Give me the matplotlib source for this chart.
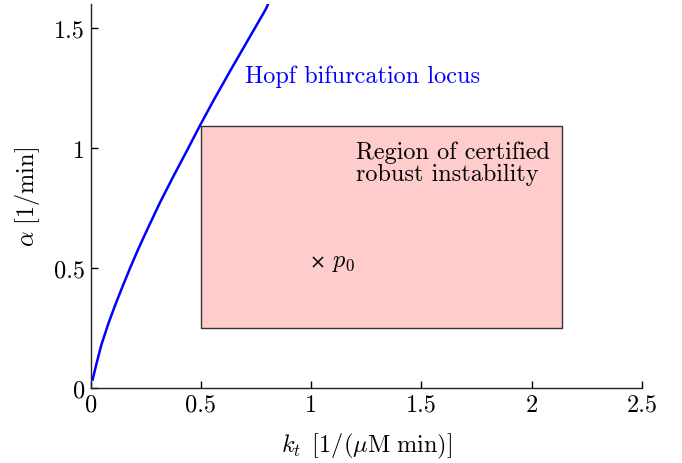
import matplotlib
matplotlib.use('Agg')
import matplotlib.pyplot as plt
from matplotlib.patches import Rectangle

plt.rcParams['font.family'] = 'serif'
plt.rcParams['font.serif'] = ['cmr10']
plt.rcParams['mathtext.fontset'] = 'cm'
plt.rcParams['axes.unicode_minus'] = False
plt.rcParams['axes.formatter.use_mathtext'] = True

# Hopf bifurcation locus
kt_hopf = [0.009, 0.026, 0.048, 0.079, 0.109, 0.139, 0.177, 0.215, 0.26,
           0.314, 0.37, 0.436, 0.497, 0.557, 0.633, 0.709, 0.792, 0.81]
alpha_hopf = [0.035, 0.100, 0.178, 0.265, 0.340, 0.410, 0.496, 0.577, 0.667,
              0.772, 0.873, 0.988, 1.096, 1.198, 1.322, 1.443, 1.575, 1.61]

# certified region box and nominal point
box_kt = [0.5, 2.14]
box_alpha = [0.25, 1.09]
p0 = (1.03, 0.525)

xticks = [0, 0.5, 1, 1.5, 2, 2.5]
xticklabels = ['0', '0.5', '1', '1.5', '2', '2.5']
yticks = [0, 0.5, 1, 1.5]
yticklabels = ['0', '0.5', '1', '1.5']

fs = 17.5

fig = plt.figure(figsize=(6.82, 4.64), dpi=100)
ax = fig.add_axes([0.133, 0.162, 0.808, 0.827])

ax.add_patch(Rectangle((box_kt[0], box_alpha[0]), box_kt[1] - box_kt[0],
                       box_alpha[1] - box_alpha[0],
                       facecolor='#ffcccc', edgecolor='#333333', lw=1.0, zorder=1))
ax.plot(kt_hopf, alpha_hopf, color='#0000ff', lw=1.8, zorder=3)
ax.plot(p0[0], p0[1], 'x', color='black', ms=7, mew=1.1, zorder=4)

ax.text(p0[0] + 0.065, p0[1], '$p_0$', fontsize=fs, va='center', ha='left')
ax.text(0.70, 1.276, 'Hopf bifurcation locus', color='#0000ff', fontsize=fs,
        va='baseline', ha='left')
ax.text(1.205, 1.03, 'Region of certified\nrobust instability', fontsize=fs,
        va='top', ha='left', linespacing=0.95)

ax.set_xlim(0, 2.5)
ax.set_ylim(0, 1.6)
ax.set_xticks(xticks)
ax.set_xticklabels(xticklabels)
ax.set_yticks(yticks)
ax.set_yticklabels(yticklabels)
ax.tick_params(direction='in', length=5, width=1, labelsize=fs, pad=4)

ax.spines['top'].set_visible(False)
ax.spines['right'].set_visible(False)
for s in ['left', 'bottom']:
    ax.spines[s].set_linewidth(1.0)
    ax.spines[s].set_color('#222222')

ax.set_xlabel(r'$k_t\ \,[1/(\mu\mathrm{M\ min})]$', fontsize=fs, labelpad=11)
ax.set_ylabel(r'$\alpha\ [1/\mathrm{min}]$', fontsize=fs, labelpad=9)

fig.savefig('out.png', dpi=100)
